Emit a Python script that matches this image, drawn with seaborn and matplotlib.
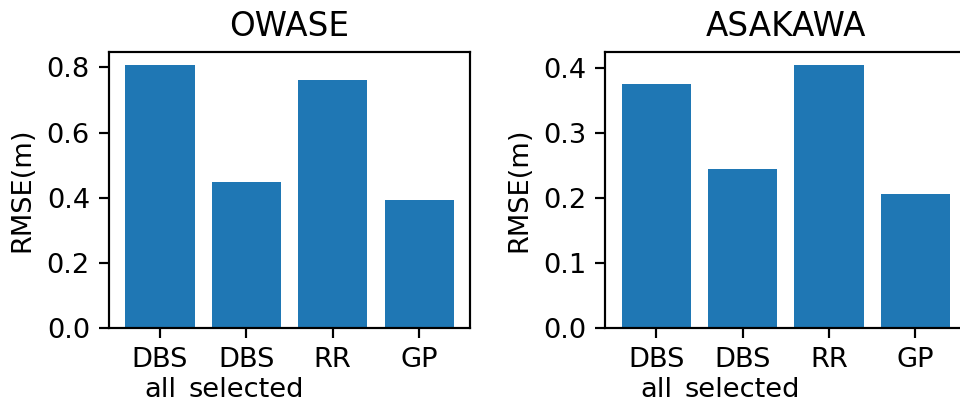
import matplotlib
matplotlib.use("Agg")
import matplotlib.pyplot as plt
import seaborn as sns
import pandas as pd

# RMSE per method at each site
methods = ["DBS\nall", "DBS\nselected", "RR", "GP"]
owase_rmse = [0.807, 0.449, 0.760, 0.392]
asakawa_rmse = [0.375, 0.245, 0.404, 0.206]
sites = ["OWASE", "ASAKAWA"]

DPI = 196
fig = plt.figure(figsize=(960 / DPI, 408 / DPI), dpi=DPI)
fig.patch.set_facecolor("white")

ax_w = 361 / 960
ax_h = 276 / 408
ax_b = 1 - 328 / 408
positions = [109 / 960, 605.3 / 960]

for site, values, x0 in zip(sites, [owase_rmse, asakawa_rmse], positions):
    ax = fig.add_axes([x0, ax_b, ax_w, ax_h])
    df = pd.DataFrame({"method": methods, "rmse": values})
    sns.barplot(data=df, x="method", y="rmse", ax=ax, color="#1f77b4",
                saturation=1, width=0.8, edgecolor="none", linewidth=0)
    ax.set_xlim(-0.59, 3.59)
    ax.set_ylim(0, max(values) * 1.05)
    ax.set_title(site)
    ax.set_xlabel("")
    ax.set_ylabel("RMSE(m)")
    for s in ax.spines.values():
        s.set_visible(True)
        s.set_color("black")

fig.savefig("out.png", dpi=DPI, facecolor="white")
